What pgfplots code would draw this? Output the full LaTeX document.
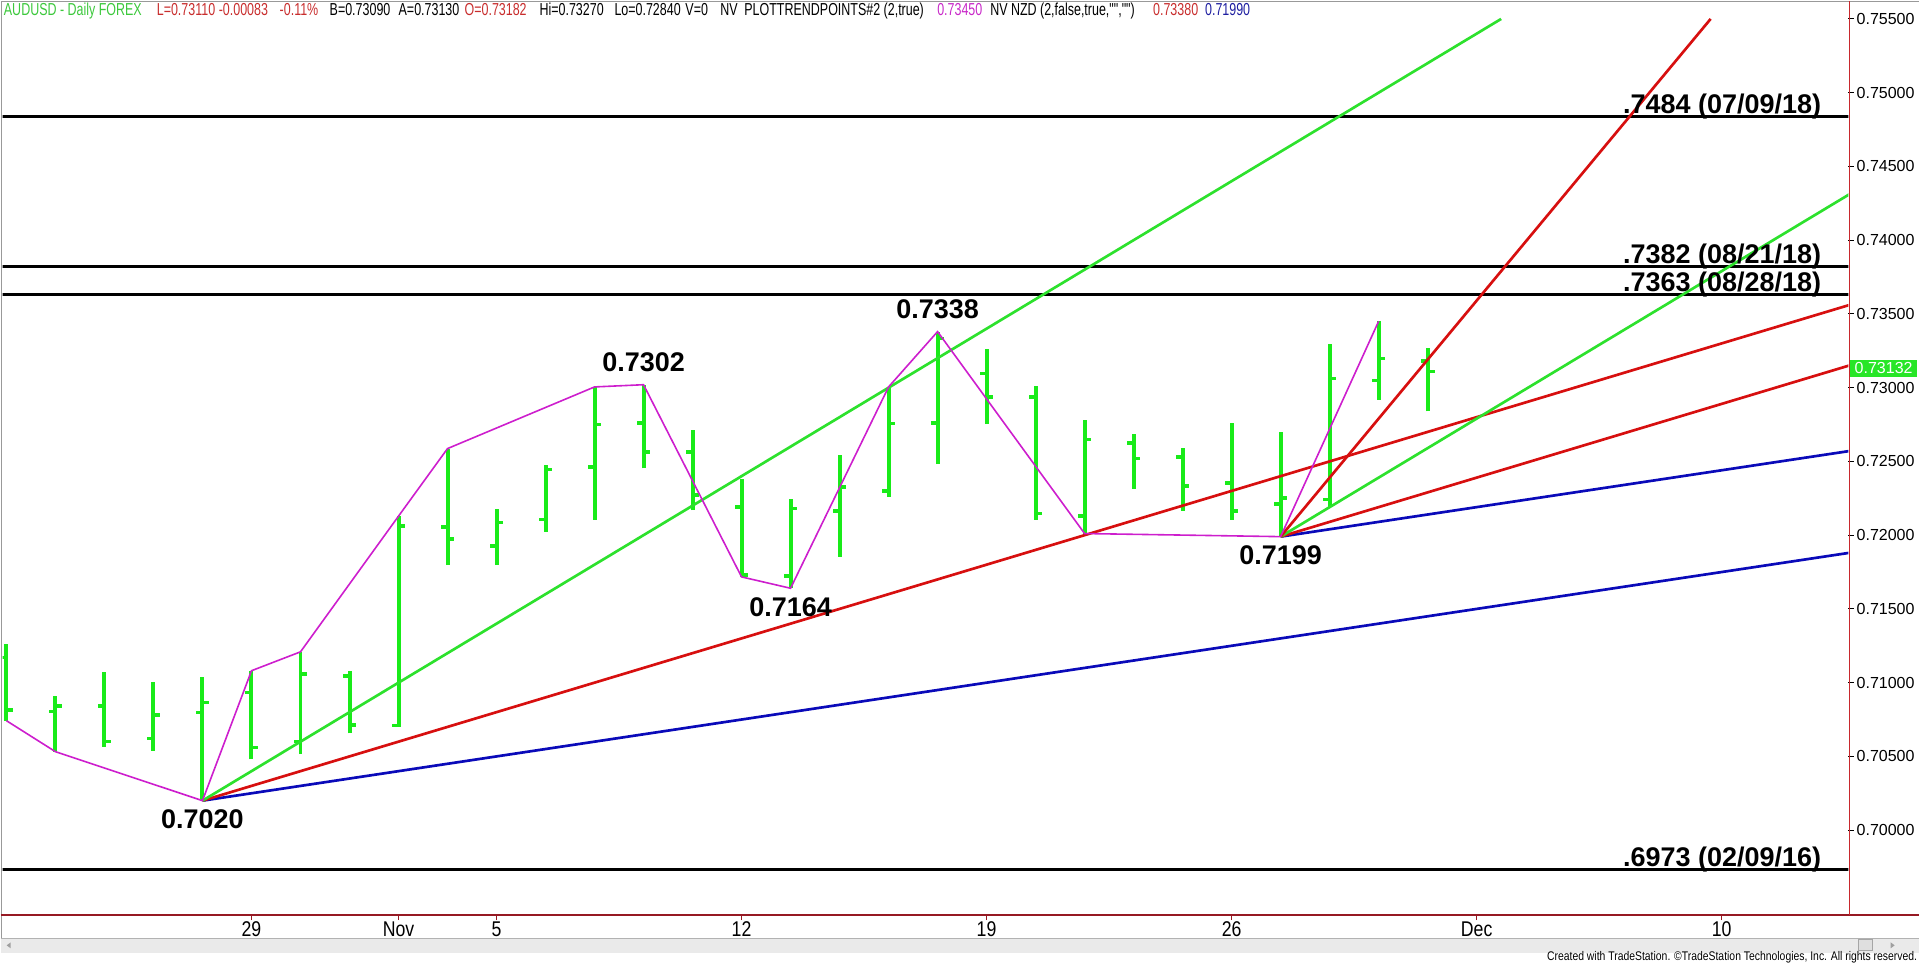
\documentclass[border=0pt]{standalone}
\usepackage{fontspec}
\setmainfont{Liberation Sans}
\newfontfamily\narrow[FakeStretch=0.83]{Liberation Sans}
\newfontfamily\hdrfont[FakeStretch=0.72]{Liberation Sans}
\usepackage{pgfplots}
\pgfplotsset{compat=1.18}
\usepackage{pgfplotstable}

\definecolor{barG}{RGB}{25,235,25}
\definecolor{trG}{RGB}{45,225,45}
\definecolor{trR}{RGB}{215,15,15}
\definecolor{trB}{RGB}{10,10,185}
\definecolor{mag}{RGB}{205,30,205}
\definecolor{axR}{RGB}{150,25,35}
\definecolor{axRR}{RGB}{200,40,45}
\definecolor{hdrG}{RGB}{60,200,60}
\definecolor{hdrR}{RGB}{200,45,45}
\definecolor{hdrM}{RGB}{200,40,200}
\definecolor{hdrB}{RGB}{30,30,160}
\definecolor{sbar}{RGB}{234,234,234}
\definecolor{boxG}{RGB}{40,230,40}

% daily OHLC, x = trading day (0 = Oct 29)
\pgfplotstableread{
x   o       h       l       c
-5  0.71169 0.71259 0.70742 0.70814
-4  0.70803 0.70911 0.70532 0.70841
-3  0.70841 0.71070 0.70566 0.70600
-2  0.70623 0.71002 0.70537 0.70781
-1  0.70796 0.71040 0.70200 0.70864
0   0.70932 0.71081 0.70480 0.70562
1   0.70600 0.71209 0.70516 0.71058
2   0.71045 0.71081 0.70656 0.70713
3   0.70710 0.72129 0.70701 0.72061
4   0.72056 0.72587 0.71797 0.71975
5   0.71928 0.72176 0.71797 0.72086
6   0.72106 0.72474 0.72022 0.72447
7   0.72463 0.73005 0.72106 0.72752
8   0.72761 0.73020 0.72452 0.72564
9   0.72564 0.72716 0.72169 0.72271
10  0.72192 0.72384 0.71717 0.71729
11  0.71722 0.72242 0.71640 0.72181
12  0.72165 0.72542 0.71853 0.72327
13  0.72300 0.73005 0.72260 0.72757
14  0.72761 0.73380 0.72481 0.73333
15  0.73096 0.73265 0.72752 0.72937
16  0.72937 0.73010 0.72106 0.72147
17  0.72129 0.72784 0.72011 0.72648
18  0.72625 0.72684 0.72316 0.72520
19  0.72530 0.72594 0.72165 0.72334
20  0.72354 0.72761 0.72106 0.72165
21  0.72210 0.72700 0.71990 0.72253
22  0.72242 0.73299 0.72192 0.73062
23  0.73050 0.73450 0.72919 0.73197
24  0.73182 0.73270 0.72840 0.73110
}\ohlc

\pgfplotstableread{
x   y
-5  0.70742
-4  0.70532
-1  0.70200
0   0.71081
1   0.71209
3   0.72129
4   0.72587
7   0.73005
8   0.73020
10  0.71717
11  0.71640
13  0.73005
14  0.73380
17  0.72011
21  0.71990
23  0.73450
}\zigzag

\begin{document}
\begin{tikzpicture}[x=1pt,y=1pt]
\path (0,0) rectangle (1440,723);
% scrollbar
\fill[sbar] (0,8.25) rectangle (1440,19.5);
\draw[gray!60, line width=0.5pt] (0,19.5) -- (1440,19.5);
\fill[gray!25] (1394.25,9.75) rectangle (1404.75,18);
\draw[gray!70, line width=0.6pt] (1394.25,9.75) rectangle (1404.75,18);
\fill[gray!75] (4.5,13.9) -- (7.5,16.1) -- (7.5,11.7) -- cycle;
\fill[gray!75] (1421.5,13.9) -- (1418.5,16.1) -- (1418.5,11.7) -- cycle;
% frame
\draw[gray!80, line width=1pt] (0.5,19.5) -- (0.5,722.5) -- (1440,722.5);

\begin{axis}[
  at={(1.5pt,36.75pt)}, anchor=south west,
  scale only axis, width=1385.25pt, height=685.5pt,
  xmin=-5.0775, xmax=32.586, ymin=0.694255, ymax=0.756179,
  axis line style={draw=none},
  xtick={0,3,5,10,15,20,25,30},
  xticklabels={29,Nov,5,12,19,26,Dec,10},
  xtick pos=bottom, ytick pos=right, yticklabel pos=right,
  tick align=outside,
  ytick={0.700,0.705,0.710,0.715,0.720,0.725,0.730,0.735,0.740,0.745,0.750,0.755},
  major tick length=4pt,
  x tick style={axR, line width=0.75pt},
  y tick style={black, line width=0.75pt},
  scaled y ticks=false,
  /pgf/number format/fixed,
  /pgf/number format/fixed zerofill,
  /pgf/number format/precision=5,
  /pgf/number format/assume math mode=true,
  x tick label style={font=\narrow\fontsize{16}{17}\selectfont, inner sep=1pt},
  y tick label style={font=\fontsize{12}{13}\selectfont, inner sep=2pt},
  ohlc/.style={only marks, mark=*, mark size=0pt, mark options={draw opacity=0, fill opacity=0}, forget plot},
]
% high-low bars
\addplot[ohlc,
  error bars/.cd, y dir=plus, y explicit, error mark=none,
  error bar style={line width=3pt, color=barG}]
  table[x=x, y=l, y error expr=\thisrow{h}-\thisrow{l}] {\ohlc};
% open ticks
\addplot[ohlc,
  error bars/.cd, x dir=minus, x fixed=0.14, error mark=none,
  error bar style={line width=2.6pt, color=barG}]
  table[x=x, y=o] {\ohlc};
% close ticks
\addplot[ohlc,
  error bars/.cd, x dir=plus, x fixed=0.14, error mark=none,
  error bar style={line width=2.6pt, color=barG}]
  table[x=x, y=c] {\ohlc};

% horizontal levels
\addplot[black, line width=2.25pt] coordinates {(-6,0.7484) (34,0.7484)};
\addplot[black, line width=2.25pt] coordinates {(-6,0.7382) (34,0.7382)};
\addplot[black, line width=2.25pt] coordinates {(-6,0.7363) (34,0.7363)};
\addplot[black, line width=2.25pt] coordinates {(-6,0.6973) (34,0.6973)};

% trend lines from 0.7020
\addplot[trB, line width=2pt] coordinates {(-1,0.7020) (33,0.7190)};
\addplot[trR, line width=2pt] coordinates {(-1,0.7020) (33,0.7360)};
\addplot[trG, line width=2pt] coordinates {(-1,0.7020) (25.5,0.7550)};
% trend lines from 0.7199
\addplot[trB, line width=2pt] coordinates {(21,0.7199) (33,0.7259)};
\addplot[trR, line width=2pt] coordinates {(21,0.7199) (33,0.7319)};
\addplot[trG, line width=2pt] coordinates {(21,0.7199) (33,0.7439)};
\addplot[trR, line width=2pt] coordinates {(21,0.7199) (29.775,0.7550)};

% swing zigzag
\addplot[mag, line width=1.2pt] table[x=x, y=y] {\zigzag};

% labels
\begin{scope}[every node/.style={font=\bfseries\fontsize{20.25}{22}\selectfont, inner sep=0pt}]
\node[anchor=north, yshift=-6.75pt] at (axis cs:-1,0.7020) {0.7020};
\node[anchor=south, yshift=9.2pt] at (axis cs:8,0.7302) {0.7302};
\node[anchor=north, yshift=-7pt] at (axis cs:11,0.7164) {0.7164};
\node[anchor=south, yshift=9.3pt] at (axis cs:14,0.7338) {0.7338};
\node[anchor=north, yshift=-6.5pt] at (axis cs:21,0.7199) {0.7199};
\node[anchor=base east, yshift=2.25pt] at (axis cs:32.035,0.7484) {.7484 (07/09/18)};
\node[anchor=base east, yshift=2.25pt] at (axis cs:32.035,0.7382) {.7382 (08/21/18)};
\node[anchor=base east, yshift=2.25pt] at (axis cs:32.035,0.7363) {.7363 (08/28/18)};
\node[anchor=base east, yshift=2.25pt] at (axis cs:32.035,0.6973) {.6973 (02/09/16)};
\end{scope}
\end{axis}

% axis lines
\draw[axR, line width=1pt] (0,36.75) -- (1440,36.75);
\draw[axRR, line width=0.8pt] (1387.5,36.75) -- (1387.5,723);
% last price box
\node[anchor=west, fill=boxG, text=white, inner sep=0pt, minimum width=50pt, minimum height=12.75pt,
  font=\fontsize{12}{13}\selectfont] at (1388,447.1) {0.73132};

% header
\begin{scope}[every node/.style={anchor=base west, inner sep=0pt, font=\hdrfont\fontsize{13}{14}\selectfont}]
\node[text=hdrG] at (2.25,712) {AUDUSD - Daily FOREX};
\node[text=hdrR] at (117,712) {L=0.73110};
\node[text=hdrR] at (163.5,712) {-0.00083};
\node[text=hdrR] at (209.25,712) {-0.11\%};
\node at (246.75,712) {B=0.73090};
\node at (298.5,712) {A=0.73130};
\node[text=hdrR] at (348,712) {O=0.73182};
\node at (404.25,712) {Hi=0.73270};
\node at (460.5,712) {Lo=0.72840};
\node at (513.75,712) {V=0};
\node at (540,712) {NV};
\node at (558,712) {PLOTTRENDPOINTS\#2 (2,true)};
\node[text=hdrM] at (702.75,712) {0.73450};
\node at (742.5,712) {NV NZD (2,false,true,"","")};
\node[text=hdrR] at (864.75,712) {0.73380};
\node[text=hdrB] at (903.75,712) {0.71990};
\end{scope}

% footer
\node[anchor=base east, inner sep=0pt, font=\narrow\fontsize{9.4}{10}\selectfont] at (1438.5,2.25)
  {Created with TradeStation. ©TradeStation Technologies, Inc. All rights reserved.};
\end{tikzpicture}
\end{document}
